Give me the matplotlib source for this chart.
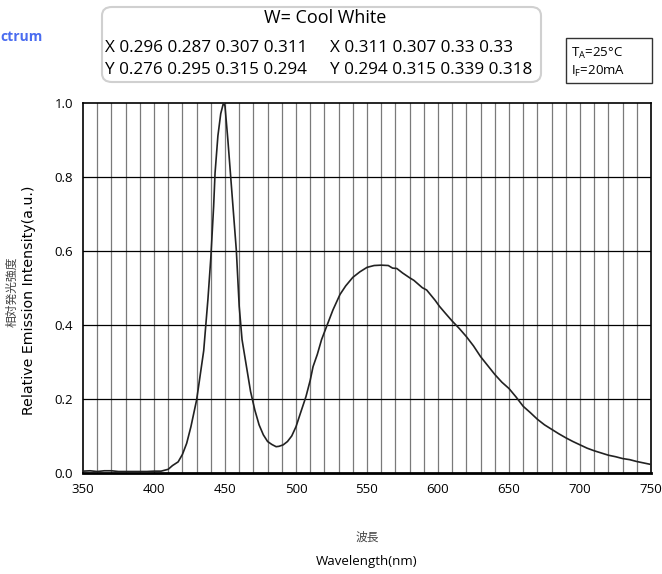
import numpy as np
import matplotlib
matplotlib.use("Agg")
import matplotlib.pyplot as plt
from matplotlib.patches import FancyBboxPatch, Rectangle

# -----------------------------
# DATA
# -----------------------------
wavelength = [350, 355, 360, 365, 370, 375, 380, 385, 390, 395, 400, 405,
              410, 413, 417, 420, 423, 426, 430, 432, 435, 438, 440, 442,
              443, 445, 447, 449, 450, 452, 455, 458, 460, 462, 465, 468,
              471, 474, 477, 480, 483, 486, 488, 491, 494, 497, 500, 503,
              507, 510, 512, 515, 518, 522, 526, 531, 535, 540, 545, 550,
              555, 560, 565, 568, 571, 575, 580, 583, 586, 589, 592, 595,
              598, 601, 605, 610, 615, 620, 625, 630, 635, 640, 645, 650,
              655, 660, 665, 670, 675, 680, 685, 690, 695, 700, 705, 710,
              715, 720, 725, 730, 735, 740, 745, 750]
intensity = [0.005, 0.006, 0.004, 0.006, 0.006, 0.004, 0.004, 0.004, 0.004,
             0.004, 0.005, 0.005, 0.010, 0.020, 0.030, 0.050, 0.080, 0.125,
             0.197, 0.250, 0.330, 0.470, 0.580, 0.720, 0.810, 0.910, 0.970,
             1.000, 0.990, 0.900, 0.750, 0.600, 0.450, 0.360, 0.290, 0.220,
             0.170, 0.130, 0.103, 0.085, 0.077, 0.071, 0.072, 0.076, 0.085,
             0.100, 0.125, 0.160, 0.206, 0.250, 0.287, 0.320, 0.360, 0.400,
             0.440, 0.482, 0.505, 0.528, 0.543, 0.555, 0.560, 0.561, 0.560,
             0.553, 0.552, 0.540, 0.527, 0.520, 0.510, 0.500, 0.494, 0.480,
             0.466, 0.450, 0.432, 0.410, 0.390, 0.368, 0.343, 0.314, 0.290,
             0.266, 0.245, 0.228, 0.205, 0.180, 0.163, 0.145, 0.130, 0.118,
             0.106, 0.095, 0.085, 0.076, 0.067, 0.060, 0.054, 0.048, 0.044,
             0.039, 0.036, 0.031, 0.027, 0.023]

x_ticks = [350, 400, 450, 500, 550, 600, 650, 700, 750]
y_ticks = [0.0, 0.2, 0.4, 0.6, 0.8, 1.0]

# chromaticity bins
bin_x_left = [0.296, 0.287, 0.307, 0.311]
bin_y_left = [0.276, 0.295, 0.315, 0.294]
bin_x_right = [0.311, 0.307, 0.33, 0.33]
bin_y_right = [0.294, 0.315, 0.339, 0.318]

# -----------------------------
# FIGURE
# -----------------------------
W, H = 662, 574
fig = plt.figure(figsize=(W / 100, H / 100), dpi=100)
ax = fig.add_axes([83 / W, 1 - 473 / H, (651 - 83) / W, (473 - 102.5) / H])


def fx(px):
    return px / W


def fy(py):
    return 1 - py / H


ax.set_xlim(350, 750)
ax.set_ylim(0, 1.0)

# grid: thin vertical every 10 nm, black horizontal every 0.2
for v in range(360, 750, 10):
    ax.axvline(v, color='#7a7a7a', lw=0.9, zorder=1)
for v in y_ticks[1:-1]:
    ax.axhline(v, color='black', lw=0.9, zorder=1)

ax.plot(wavelength, intensity, color='#222222', lw=1.2, zorder=3)

ax.set_xticks(x_ticks)
ax.set_yticks(y_ticks)
ax.set_yticklabels([f'{v:.1f}' for v in y_ticks])
ax.tick_params(length=0, labelsize=9.5, pad=7)
for lab in ax.get_xticklabels() + ax.get_yticklabels():
    lab.set_family('Open Sans')
for s in ax.spines.values():
    s.set_linewidth(1.2)
    s.set_color('black')
ax.spines['bottom'].set_linewidth(2.0)

# axis labels (Japanese + English)
cjk = ['Noto Sans CJK JP', 'DejaVu Sans']
fig.text(fx(12), fy(292), '相対発光強度', rotation=90, ha='center', va='center',
         fontsize=8.5, color='#444444', family=cjk)
fig.text(fx(29), fy(300), 'Relative Emission Intensity(a.u.)', rotation=90,
         ha='center', va='center', fontsize=10.2, family='DejaVu Sans')
fig.text(fx(367), fy(537), '波長', ha='center', va='center', fontsize=8.5,
         color='#444444', family=cjk)
fig.text(fx(367), fy(561), 'Wavelength(nm)', ha='center', va='center',
         fontsize=9.5, family='Open Sans')

# cut-off title at left
fig.text(fx(0), fy(37), 'ctrum', ha='left', va='center', fontsize=10,
         fontweight='bold', color='#4a6cf0', family='Open Sans')

# legend box with chromaticity coordinates
box = FancyBboxPatch((fx(102), fy(82)), fx(541) - fx(102), fy(7) - fy(82),
                     boxstyle='round,pad=0,rounding_size=0.015',
                     transform=fig.transFigure, facecolor='white',
                     edgecolor='#d0d0d0', lw=1.5)
fig.patches.append(box)
fig.text(fx(325), fy(18), 'W= Cool White', ha='center', va='center',
         fontsize=13, family='Open Sans')


def row(label, vals):
    return label + ' ' + ' '.join(str(v) for v in vals)


fs_row = 12.3
fig.text(fx(105), fy(48), row('X', bin_x_left), ha='left', va='center',
         fontsize=fs_row, family='Open Sans')
fig.text(fx(105), fy(70), row('Y', bin_y_left), ha='left', va='center',
         fontsize=fs_row, family='Open Sans')
fig.text(fx(330), fy(48), row('X', bin_x_right), ha='left', va='center',
         fontsize=fs_row, family='Open Sans')
fig.text(fx(330), fy(70), row('Y', bin_y_right), ha='left', va='center',
         fontsize=fs_row, family='Open Sans')

# conditions box
cond = Rectangle((fx(566), fy(83)), fx(652) - fx(566), fy(38) - fy(83),
                 transform=fig.transFigure, facecolor='white',
                 edgecolor='#333333', lw=1.0)
fig.patches.append(cond)
fig.text(fx(571), fy(53), r'T$_\mathregular{A}$=25°C', ha='left', va='center',
         fontsize=9.5, family='Open Sans')
fig.text(fx(571), fy(71), r'I$_\mathregular{F}$=20mA', ha='left', va='center',
         fontsize=9.5, family='Open Sans')

fig.savefig('out.png', dpi=100)
